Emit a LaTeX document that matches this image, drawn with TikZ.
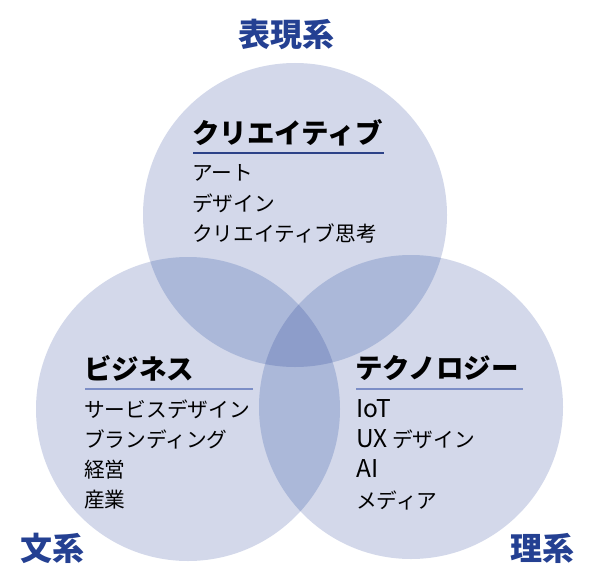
\documentclass[tikz,border=0pt]{standalone}
\usepackage{fontspec}
\newfontfamily\jp{Noto Sans CJK JP}
\newcommand\lat[1]{{\fontsize{24.5}{23}\selectfont #1}}
\definecolor{one}{HTML}{D3D8EA}
\definecolor{two}{HTML}{ABB8D9}
\definecolor{three}{HTML}{8D9DCA}
\definecolor{lab}{RGB}{36,64,146}
\definecolor{rulea}{HTML}{2C4288}
\definecolor{ruleb}{HTML}{7C8EC6}
\begin{document}
\begin{tikzpicture}[x=1pt,y=-1pt,
  head/.style={anchor=west,inner sep=0pt,font=\jp\bfseries\fontsize{27.5}{29}\selectfont},
  item/.style={anchor=west,inner sep=0pt,font=\jp\fontsize{20.7}{23}\selectfont},
  cat/.style={inner sep=0pt,text=lab,font=\jp\bfseries\fontsize{32}{34}\selectfont}]
\useasboundingbox (0,0) rectangle (591,575);
\def\ct{(295,215) circle (152)}
\def\cl{(188,409) circle (152)}
\def\cr{(411,407) circle (152)}
\fill[one] \ct; \fill[one] \cl; \fill[one] \cr;
\begin{scope}\clip \ct; \fill[two] \cl; \fill[two] \cr; \end{scope}
\begin{scope}\clip \cl; \fill[two] \cr; \end{scope}
\begin{scope}\clip \ct; \clip \cl; \fill[three] \cr; \end{scope}
% top
\node[head] (h1) at (192,133) {クリエイティブ};
\coordinate (r1a) at (193,153); \coordinate (r1b) at (384,153);
\draw[rulea,line width=1.2pt] (r1a) -- (r1b);
\node[item] (a1) at (192,173) {アート};
\node[item] (a2) at (192,203) {デザイン};
\node[item] (a3) at (192,233) {クリエイティブ思考};
% left
\node[head] (h2) at (84,368.5) {ビジネス};
\coordinate (r2a) at (85,389); \coordinate (r2b) at (253,389);
\draw[ruleb,line width=1.5pt] (r2a) -- (r2b);
\node[item] (b1) at (84,409) {サービスデザイン};
\node[item] (b2) at (84,439) {ブランディング};
\node[item] (b3) at (84,470) {経営};
\node[item] (b4) at (84,500) {産業};
% right
\node[head] (h3) at (355,368) {テクノロジー};
\coordinate (r3a) at (356,389); \coordinate (r3b) at (523,389);
\draw[ruleb,line width=1.5pt] (r3a) -- (r3b);
\node[item] (c1) at (356,409) {\lat{IoT}};
\node[item] (c2) at (356,439) {\lat{UX} デザイン};
\node[item] (c3) at (356,469) {\lat{AI}};
\node[item] (c4) at (356,500) {メディア};
% categories
\node[cat] (k1) at (286,34) {表現系};
\node[cat] (k2) at (52,548) {文系};
\node[cat] (k3) at (542,548) {理系};
\end{tikzpicture}
\end{document}
